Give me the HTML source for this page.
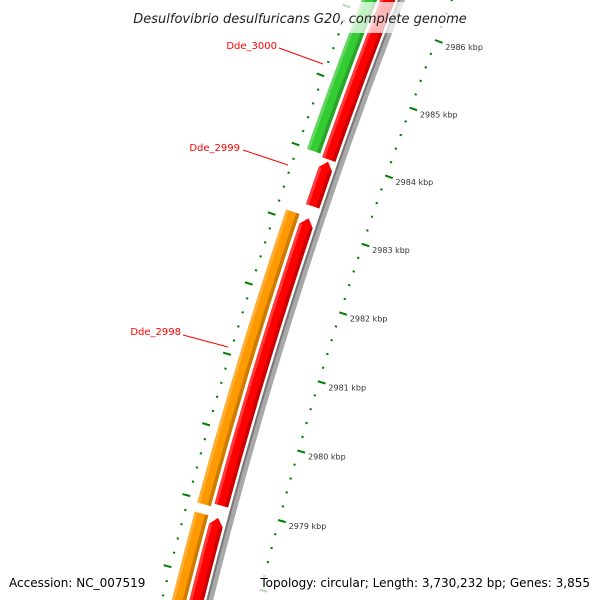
<!DOCTYPE html>
<html><head><meta charset="utf-8"><style>
html,body{margin:0;padding:0;background:#fff;width:600px;height:600px;overflow:hidden;}
svg{display:block;font-family:"DejaVu Sans","Liberation Sans",sans-serif;overflow:hidden;}
</style></head><body>
<svg id="map" width="600" height="600" viewBox="0 0 600 600">
<g id="ticks"></g>
<g id="features"></g>
<g id="labels">
  <line x1="279" y1="48" x2="323" y2="64" stroke="#ff0000" stroke-width="1"/>
  <text x="277" y="49" text-anchor="end" font-size="10" fill="#ff0000">Dde_3000</text>
  <line x1="243" y1="150" x2="288" y2="165" stroke="#ff0000" stroke-width="1"/>
  <text x="240" y="151" text-anchor="end" font-size="10" fill="#ff0000">Dde_2999</text>
  <line x1="183" y1="335" x2="228" y2="347" stroke="#ff0000" stroke-width="1"/>
  <text x="181" y="335" text-anchor="end" font-size="10" fill="#ff0000">Dde_2998</text>
</g>
<rect x="120" y="2" width="362" height="31" fill="#fff" opacity="0.72"/>
<text x="300" y="23" text-anchor="middle" font-size="13" font-style="italic" fill="#222">Desulfovibrio desulfuricans G20, complete genome</text>
<rect x="255" y="570" width="345" height="30" fill="#fff" opacity="0.72"/>
<text x="9" y="587" font-size="12" fill="#000">Accession: NC_007519</text>
<text x="590" y="587" text-anchor="end" font-size="12" fill="#000">Topology: circular; Length: 3,730,232 bp; Genes: 3,855</text>
</svg>
<script>
// ---- data ----
const tickKbp = [2979, 2980, 2981, 2982, 2983, 2984, 2985, 2986];
const tickLabels = ["2979 kbp","2980 kbp","2981 kbp","2982 kbp","2983 kbp","2984 kbp","2985 kbp","2986 kbp"];
const geneNames = ["Dde_3000", "rev_a", "Dde_2999", "Dde_2998", "rev_b", "fwd_c", "rev_c"];
const geneStarts = [2983990, 2983950, 2983273, 2983115, 2978986, 2977000, 2977000];
const geneEnds   = [2987500, 2987500, 2983920, 2978942, 2983100, 2978813, 2978813];
const geneStrand = ["fwd", "rev", "rev", "fwd", "rev", "fwd", "rev"];
const geneColors = ["#33cc33", "#ff0000", "#ff0000", "#ff9900", "#ff0000", "#ff9900", "#ff0000"];
const geneArrow  = [false, false, true, false, true, false, true];

// ---- geometry calibration (circle through three tick positions) ----
const A = [435, 40], B = [362, 243], C = [278, 520];
function circum(a, b, c) {
  const d = 2 * (a[0]*(b[1]-c[1]) + b[0]*(c[1]-a[1]) + c[0]*(a[1]-b[1]));
  const a2 = a[0]*a[0]+a[1]*a[1], b2 = b[0]*b[0]+b[1]*b[1], c2 = c[0]*c[0]+c[1]*c[1];
  return [(a2*(b[1]-c[1]) + b2*(c[1]-a[1]) + c2*(a[1]-b[1]))/d,
          (a2*(c[0]-b[0]) + b2*(a[0]-c[0]) + c2*(b[0]-a[0]))/d];
}
const cen = circum(A, B, C);
const cx = cen[0], cy = cen[1];
const R0 = Math.hypot(A[0]-cx, A[1]-cy);
const thHi = Math.atan2(A[1]-cy, A[0]-cx);
const thLo = Math.atan2(C[1]-cy, C[0]-cx);
function ang(bp) { return thLo + (bp - 2979000) * (thHi - thLo) / 7000; }
function pt(bp, r) { const t = ang(bp); return [cx + r*Math.cos(t), cy + r*Math.sin(t)]; }
function P(p) { return p[0].toFixed(2) + "," + p[1].toFixed(2); }
const NS = "http://www.w3.org/2000/svg";

function band(b1, b2, ri, ro, fill, tipBp) {
  const s = (ang(b2) > ang(b1)) ? 1 : 0;
  let d = "M" + P(pt(b1, ro)) + " A" + ro + " " + ro + " 0 0 " + s + " " + P(pt(b2, ro));
  if (tipBp) d += " L" + P(pt(tipBp, (ri+ro)/2));
  d += " L" + P(pt(b2, ri)) + " A" + ri + " " + ri + " 0 0 " + (1-s) + " " + P(pt(b1, ri)) + " Z";
  const p = document.createElementNS(NS, "path");
  p.setAttribute("d", d);
  p.setAttribute("fill", fill);
  return p;
}
function shade(hex, f) {
  const n = parseInt(hex.slice(1), 16);
  let r = n >> 16, g = (n >> 8) & 255, b = n & 255;
  if (f > 0) { r += (255-r)*f; g += (255-g)*f; b += (255-b)*f; }
  else { r *= 1+f; g *= 1+f; b *= 1+f; }
  return "rgb(" + Math.round(r) + "," + Math.round(g) + "," + Math.round(b) + ")";
}

// ---- backbone ----
const fg = document.getElementById("features");
{
  const bb = band(2977000, 2987500, R0+42.5, R0+49, "#a8a8a8");
  
  
  fg.appendChild(bb);
  const bbd = band(2977000, 2987500, R0+47, R0+49, "#777777");
  
  
  fg.appendChild(bbd);
}

// ---- genes ----
const arrowBp = 110;
for (let i = 0; i < geneNames.length; i++) {
  const fwd = geneStrand[i] === "fwd";
  const ri = fwd ? R0 + 68.5 : R0 + 51.5;
  const ro = fwd ? R0 + 82.5 : R0 + 65.5;
  const s = geneStarts[i], e = geneEnds[i];
  const bodyEnd = geneArrow[i] ? e - arrowBp : e;
  const tip = geneArrow[i] ? e : null;
  const g = document.createElementNS(NS, "g");
  
  
  g.appendChild(band(s, bodyEnd, ri, ro, geneColors[i], tip));
  g.appendChild(band(s, bodyEnd, ro - 3, ro, shade(geneColors[i], 0.22)));
  g.appendChild(band(s, bodyEnd, ri, ri + 3.5, shade(geneColors[i], -0.2)));
  fg.appendChild(g);
}

// ---- ticks ----
const tg = document.getElementById("ticks");
for (let bp = 2977000; bp <= 2987400; bp += 200) {
  const major = bp % 1000 === 0;
  const a = pt(bp, R0), b = pt(bp, major ? R0 - 8 : R0 - 2.2);
  const l = document.createElementNS(NS, "line");
  l.setAttribute("x1", a[0]); l.setAttribute("y1", a[1]);
  l.setAttribute("x2", b[0]); l.setAttribute("y2", b[1]);
  l.setAttribute("stroke", "#008000"); l.setAttribute("stroke-width", "2");
  
  
  tg.appendChild(l);
  const c = pt(bp, R0 + 91), d = pt(bp, major ? R0 + 99 : R0 + 93.2);
  const m = document.createElementNS(NS, "line");
  m.setAttribute("x1", c[0]); m.setAttribute("y1", c[1]);
  m.setAttribute("x2", d[0]); m.setAttribute("y2", d[1]);
  m.setAttribute("stroke", "#008000"); m.setAttribute("stroke-width", "2");
  
  
  tg.appendChild(m);
}
for (let i = 0; i < tickKbp.length; i++) {
  const p = pt(tickKbp[i] * 1000, R0 - 11);
  const t = document.createElementNS(NS, "text");
  t.setAttribute("x", p[0]); t.setAttribute("y", p[1] + 6);
  t.setAttribute("font-size", "8"); t.setAttribute("fill", "#333");
  
  
  t.textContent = tickLabels[i];
  tg.appendChild(t);
}
</script>
</body></html>
